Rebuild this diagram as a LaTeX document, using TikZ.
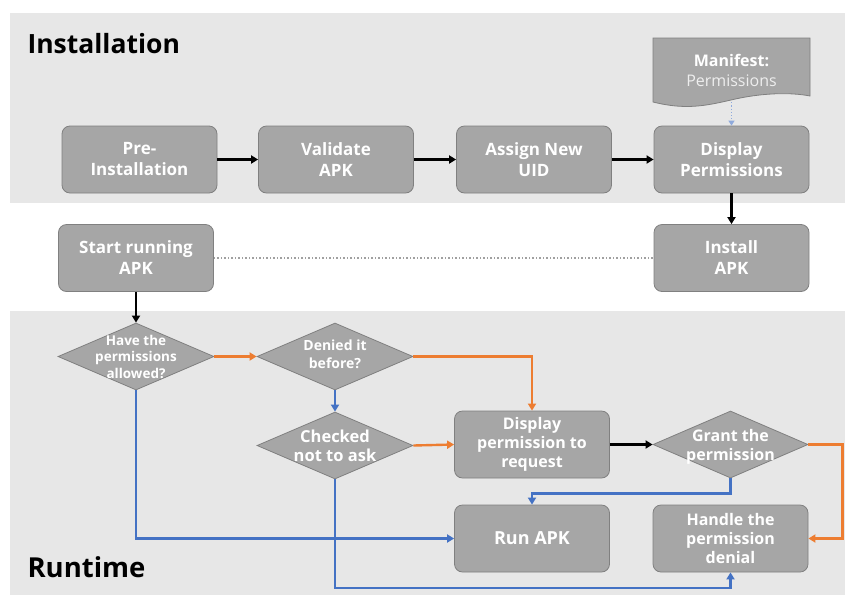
\documentclass[tikz,border=0pt]{standalone}
\usepackage{fontspec}
\setmainfont{Open Sans}
\usetikzlibrary{shapes.geometric,arrows.meta}
\definecolor{panel}{RGB}{231,231,231}
\definecolor{boxfill}{RGB}{166,166,166}
\definecolor{boxline}{RGB}{128,128,128}
\definecolor{orangeA}{RGB}{237,125,49}
\definecolor{blueA}{RGB}{68,114,196}
\definecolor{lblue}{RGB}{143,170,220}
\definecolor{dotgray}{RGB}{160,160,160}
\definecolor{paletext}{RGB}{238,238,238}
\begin{document}
\begin{tikzpicture}[x=1pt,y=-1pt,
  box/.style={draw=boxline, line width=0.8pt, fill=boxfill, rounded corners=8pt,
    minimum width=155pt, minimum height=67pt, inner sep=0pt, align=center, text=white,
    font=\bfseries\fontsize{17}{21}\selectfont},
  lbox/.style={box, font=\bfseries\fontsize{16}{19}\selectfont},
  dia/.style={diamond, draw=boxline, line width=0.8pt, fill=boxfill,
    minimum width=156pt, minimum height=67pt, inner sep=0pt},
  dlabel/.style={text=white, align=center, inner sep=0pt},
  head/.style={anchor=base west, font=\bfseries\fontsize{26.5}{30}\selectfont},
  blk/.style={line width=2.6pt, -{Triangle[length=7pt,width=8pt]}},
  org/.style={orangeA, line width=2.4pt, -{Triangle[length=7pt,width=8pt]}},
  blu/.style={blueA, line width=2.4pt, -{Triangle[length=7pt,width=8pt]}}
]
\useasboundingbox (0,0) rectangle (845,595);
\fill[panel] (10,13) rectangle (845,203);
\fill[panel] (10,311) rectangle (845,595);

\node[head] (hinst) at (24,53) {Installation};
\node[head, font=\bfseries\fontsize{27.5}{30}\selectfont] (hrun) at (24,577) {Runtime};

% Manifest document
\fill[boxfill, draw=boxline, line width=0.8pt] (653,38) -- (810,38) -- (810,96)
  .. controls (790,92) and (760,93) .. (731,100)
  .. controls (705,106) and (685,110) .. (653,102) -- cycle;
\node[text=white, align=center, inner sep=0pt, minimum width=157pt, minimum height=64pt,
  font=\fontsize{16}{20}\selectfont]
  (man) at (731.5,70) {\textbf{Manifest:}\\\textcolor{paletext}{Permissions}};

% Installation row
\node[box] (pre) at (139.5,159.5) {Pre-\\Installation};
\node[box] (val) at (336,159.5) {Validate\\APK};
\node[box] (uid) at (534,159.5) {Assign New\\UID};
\node[box] (disp) at (731.5,159.5) {Display\\Permissions};
\node[box] (inst) at (731.5,258) {Install\\APK};
\node[box] (start) at (136,258) {Start running\\APK};

% Runtime
\node[dia, label={[dlabel, font=\bfseries\fontsize{13.5}{16.5}\selectfont]center:{Have the\\permissions\\allowed?}}] (have) at (136,356.5) {};
\node[dia, label={[dlabel, font=\bfseries\fontsize{14}{18}\selectfont, yshift=2pt]center:{Denied it\\before?}}] (den) at (335,356.5) {};
\node[dia, label={[dlabel, font=\bfseries\fontsize{16.5}{19}\selectfont]center:{Checked\\not to ask}}] (chk) at (335,445.5) {};
\node[lbox] (req) at (532,444.5) {Display\\permission to\\request};
\node[dia, minimum width=155pt, label={[dlabel, font=\bfseries\fontsize{16}{19}\selectfont, yshift=-2pt]center:{Grant the\\permission}}] (grant) at (730.5,444.5) {};
\node[lbox, font=\bfseries\fontsize{18}{21}\selectfont] (run) at (532,538.5) {Run APK};
\node[lbox] (hand) at (730.5,538.5) {Handle the\\permission\\denial};

% connectors
\draw[blk] (pre) -- (val);
\draw[blk] (val) -- (uid);
\draw[blk] (uid) -- (disp);
\draw[lblue, line width=1.2pt, dotted, -{Triangle[length=5pt,width=6pt]}] (man.south) -- (disp.north);
\draw[blk] (disp) -- (inst);
\draw[dotgray, line width=1.5pt, dotted] (start) -- (inst);
\draw[blk] (start) -- (have);
\draw[org] (have) -- (den);
\draw[org] (den.east) -| (req.north);
\draw[blu] (den) -- (chk);
\draw[org] (chk.east) -- (req.west);
\draw[blu] (have.south) |- (run.west);
\coordinate (lowturn) at (335,588);
\draw[blu] (chk.south) -- (lowturn) -| (hand.south);
\draw[blk] (req) -- (grant);
\draw[blu] (grant.south) -- ++(0,15) -| (run.north);
\draw[org] (grant.east) -- ++(34,0) |- (hand.east);
\end{tikzpicture}
\end{document}
